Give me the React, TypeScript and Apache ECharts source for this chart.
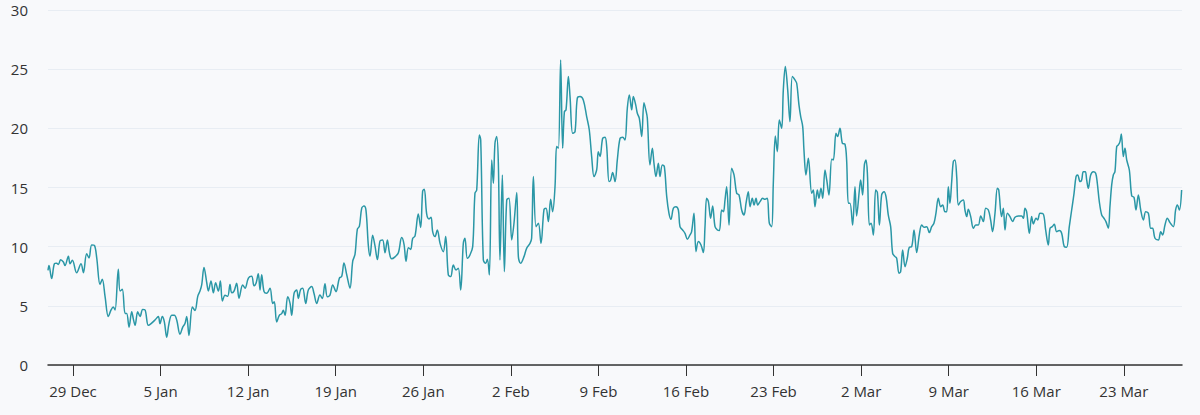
import React, { useEffect, useRef } from "react";
import * as echarts from "echarts";

// x = days after 29 Dec (midnight); y = value
const days = [
  -2.0, -1.92, -1.71, -1.49, -1.31, -1.17, -0.99, -0.77, -0.64, -0.37, -0.24, -0.05, 0.29, 0.64, 0.83, 1.09, 1.28, 1.49, 1.71, 1.89,
  2.16, 2.34, 2.56, 2.82, 3.04, 3.22, 3.36, 3.62, 3.76, 3.94, 4.16, 4.29, 4.48, 4.69, 4.82, 4.96, 5.17, 5.36, 5.57, 5.76,
  6.02, 6.24, 6.55, 6.82, 6.95, 7.14, 7.3, 7.49, 7.67, 7.89, 8.1, 8.29, 8.55, 8.77, 8.95, 9.09, 9.27, 9.54, 9.75, 9.97,
  10.15, 10.29, 10.47, 10.69, 10.82, 11.03, 11.22, 11.4, 11.62, 11.78, 11.94, 12.15, 12.36, 12.55, 12.68, 12.87, 13.08, 13.27,
  13.56, 13.75, 14.02, 14.28, 14.47, 14.63, 14.81, 14.95, 15.08, 15.27, 15.48, 15.75, 15.96, 16.09, 16.28, 16.49, 16.68, 16.81, 16.95,
  17.16, 17.35, 17.48, 17.67, 17.88, 18.01, 18.2, 18.36, 18.6, 18.81, 19.08, 19.26, 19.48, 19.74, 19.93, 20.14, 20.33, 20.54, 20.76,
  21.02, 21.29, 21.48, 21.66, 21.88, 22.14, 22.36, 22.54, 22.73, 22.89, 23.08, 23.26, 23.42, 23.61, 23.74, 23.95, 24.14, 24.33,
  24.54, 24.75, 24.94, 25.13, 25.29, 25.47, 25.74, 26.01, 26.27, 26.46, 26.62, 26.81, 26.99, 27.15, 27.34, 27.6, 27.79, 27.95,
  28.08, 28.27, 28.46, 28.62,
  28.75, 28.94, 29.12, 29.34, 29.6, 29.79, 30.0, 30.19, 30.4, 30.62, 30.8, 30.99, 31.2, 31.33, 31.52, 31.73, 31.95, 32.13, 32.27,
  32.48, 32.59, 32.8, 32.99, 33.12, 33.28, 33.47, 33.6, 33.73, 33.87, 34.0, 34.13, 34.32, 34.48, 34.67, 34.85, 35.07, 35.25, 35.47,
  35.6, 35.78, 36.05, 36.26, 36.53, 36.66, 36.8, 37.01, 37.2, 37.41, 37.65, 37.81, 38.0, 38.18, 38.34, 38.53, 38.66, 38.8, 38.98,
  39.14, 39.28, 39.41, 39.6, 39.73, 39.94, 40.13, 40.31, 40.53, 40.79, 41.06, 41.27, 41.46, 41.65, 41.86, 41.99, 42.13, 42.34,
  42.53, 42.66, 42.85, 42.98, 43.14, 43.33, 43.51, 43.73, 43.94, 44.12,
  44.31, 44.47, 44.66, 44.79, 44.98, 45.11, 45.27, 45.46, 45.64, 45.8, 45.91, 46.12, 46.31, 46.44, 46.6, 46.79, 46.92, 47.11,
  47.27, 47.46, 47.64, 47.8, 47.99, 48.2, 48.39, 48.52, 48.73, 48.92, 49.11, 49.32, 49.45, 49.64, 49.8, 49.99, 50.2, 50.39,
  50.52, 50.65, 50.79, 50.97, 51.13, 51.32, 51.51, 51.67, 51.85, 51.99, 52.12, 52.25, 52.44, 52.65, 52.84, 53.05, 53.24, 53.45,
  53.64, 53.8, 53.98, 54.12, 54.3, 54.44, 54.6, 54.73, 54.92, 55.13, 55.32, 55.5, 55.66, 55.85, 55.98, 56.14, 56.3, 56.46,
  56.65, 56.78, 56.94, 57.13, 57.31, 57.5, 57.71, 57.85, 58.03, 58.17, 58.33, 58.43, 58.59, 58.78,
  59.05, 59.18, 59.31, 59.5, 59.63, 59.79, 59.93, 60.11, 60.25, 60.43, 60.65, 60.78, 60.99, 61.12, 61.31, 61.5, 61.71, 61.84,
  61.98, 62.11, 62.32, 62.51, 62.64, 62.86, 62.96, 63.12, 63.26, 63.39, 63.5, 63.66, 63.79, 63.98, 64.16, 64.3, 64.46, 64.64,
  64.83, 64.99, 65.17, 65.36, 65.52, 65.71, 65.84, 66.03, 66.16, 66.32, 66.51, 66.69, 66.85, 67.04, 67.23, 67.44, 67.65, 67.84,
  68.03, 68.24, 68.45, 68.64, 68.82, 68.98, 69.17, 69.36, 69.52, 69.7, 69.84, 69.97, 70.1, 70.24, 70.37, 70.5, 70.64, 70.77,
  70.96, 71.17, 71.3, 71.44, 71.57, 71.76, 71.97, 72.16, 72.37, 72.56, 72.77, 72.96, 73.17, 73.35, 73.51, 73.7, 73.89, 74.0,
  74.23, 74.37, 74.5, 74.69, 74.9, 75.11, 75.3, 75.57, 75.83, 75.97, 76.1, 76.23, 76.45, 76.63, 76.77, 76.98, 77.11, 77.3,
  77.56, 77.75, 77.96, 78.1, 78.28, 78.44, 78.63, 78.84, 79.03, 79.24, 79.43, 79.64, 79.83, 80.02, 80.18, 80.31, 80.5, 80.63,
  80.76, 80.92, 81.03, 81.16, 81.35, 81.56, 81.75, 81.88, 82.04, 82.23, 82.41, 82.57, 82.76, 82.89, 83.03, 83.16, 83.29, 83.43,
  83.56, 83.69, 83.8, 83.96, 84.09, 84.23, 84.44, 84.63, 84.81, 84.97, 85.16, 85.35, 85.56, 85.75, 85.96, 86.15, 86.3, 86.49,
  86.76, 86.95, 87.1, 87.29, 87.48, 87.69, 87.96, 88.14, 88.28, 88.44, 88.62,
];

const values = [
  8.0, 8.4, 7.3, 8.55, 8.6, 8.5, 8.9, 8.7, 8.4, 9.2, 8.55, 8.85, 7.8, 8.55, 7.8, 9.4, 9.05, 10.15, 10.1, 9.1,
  6.8, 7.25, 5.8, 4.1, 4.65, 4.9, 4.65, 8.1, 6.25, 6.4, 4.35, 4.35, 3.2, 4.5, 3.9, 3.35, 4.5, 4.1, 4.7, 4.65,
  3.35, 3.5, 3.8, 4.1, 3.5, 4.1, 3.65, 2.35, 3.5, 4.2, 4.2, 3.8, 2.6, 3.2, 3.5, 4.1, 2.5, 4.9, 4.6, 5.8,
  6.25, 6.8, 8.25, 6.95, 6.25, 7.1, 6.1, 6.95, 6.25, 7.1, 5.4, 5.9, 5.8, 6.8, 6.1, 6.25, 6.9, 5.65,
  6.77, 6.49, 7.34, 7.49, 6.69, 6.91, 7.71, 6.34, 7.63, 6.2, 6.06, 6.49, 5.2, 5.34, 3.63, 4.2, 4.34, 4.63, 4.2,
  5.77, 5.2, 4.2, 6.06, 6.34, 5.63, 6.4, 6.49, 5.2, 6.34, 6.63, 6.06, 5.2, 5.91, 5.63, 6.86, 5.77, 5.91, 6.77,
  6.2, 7.34, 7.49, 8.63, 7.63, 6.49, 8.77, 9.34, 11.49, 11.71, 13.26, 13.43, 13.06, 10.06, 9.2, 10.97, 10.06, 8.91,
  10.49, 10.57, 9.49, 10.57, 9.49, 8.97, 9.14, 9.49, 10.77, 10.2, 8.77, 9.91, 9.77, 10.69, 10.91, 12.77, 11.63, 14.69,
  14.86, 12.77, 12.34, 12.49,
  11.27, 10.85, 11.41, 10.28, 9.58, 10.85, 7.61, 7.47, 8.45, 8.03, 8.17, 6.34, 10.28, 10.71, 9.02, 9.3, 10.0, 14.51, 14.79,
  19.44, 19.02, 8.88, 8.59, 8.93, 7.61, 17.33, 15.36, 18.74, 19.3, 17.05, 8.88, 16.06, 7.89, 13.95, 14.09, 10.57, 11.98, 14.57,
  9.16, 8.59, 9.16, 9.86, 10.28, 10.71, 15.92, 11.69, 11.98, 10.28, 13.16, 13.24, 12.12, 14.0, 12.96, 15.07, 18.46, 18.32, 25.78,
  18.32, 21.41, 21.56, 24.37, 22.68, 19.58, 19.72, 22.54, 22.68, 22.4, 20.99, 19.86, 17.61, 15.92, 16.48, 18.03, 17.61, 19.16,
  19.24, 18.46, 15.5, 15.64, 16.26, 15.5, 17.33, 19.16, 19.24, 19.02,
  21.7, 22.82, 21.56, 22.68, 21.98, 21.27, 20.85, 19.3, 22.17, 21.5, 20.85, 16.91, 18.32, 17.05, 15.92, 17.05, 15.92, 16.91,
  16.76, 14.23, 12.82, 12.31, 13.24, 13.38, 13.1, 11.69, 11.41, 11.13, 10.62, 10.99, 11.27, 12.82, 9.58, 10.43, 10.14, 9.5,
  11.69, 14.09, 13.81, 12.4, 13.44, 11.69, 11.41, 11.36, 13.1, 12.96, 13.95, 15.07, 11.83, 16.62, 16.06, 14.51, 14.37, 13.1,
  12.68, 13.67, 14.65, 13.38, 14.09, 13.52, 14.09, 13.52, 13.81, 14.09, 14.0, 14.09, 11.98, 11.69, 15.36, 19.36, 18.03, 20.71,
  20.01, 23.25, 25.22, 23.25, 20.57, 24.37, 24.09, 23.81, 21.98, 20.99, 20.15, 18.17, 16.06, 17.47,
  14.51, 14.79, 13.38, 14.79, 14.09, 14.93, 14.09, 16.48, 15.64, 14.37, 17.39, 17.33, 19.58, 19.3, 20.01, 18.74, 18.65, 17.33,
  13.67, 13.67, 11.83, 15.07, 12.6, 14.79, 15.64, 14.37, 16.91, 17.33, 16.2, 11.83, 11.98, 10.99, 14.79, 14.57, 11.83, 14.37,
  14.65, 14.23, 12.68, 11.69, 9.44, 9.16, 9.02, 7.75, 7.89, 9.72, 8.31, 9.02, 9.95, 10.0, 11.41, 9.5, 10.99, 11.83,
  11.64, 11.69, 11.19, 11.69, 11.98, 12.82, 14.09, 13.38, 13.52, 12.96, 12.96, 15.07, 13.67, 15.5, 17.19, 17.33, 15.92, 13.52,
  13.81, 13.95, 13.1, 12.54, 13.16, 12.54, 11.55, 11.83, 11.83, 12.6, 12.12, 13.24, 13.1, 12.26, 11.27, 12.82, 14.93, 14.79,
  12.54, 13.24, 11.41, 12.82, 12.54, 12.12, 12.48, 12.6, 12.6, 12.4, 13.24, 12.96, 11.13, 12.54, 11.92, 12.4, 12.26, 12.82,
  12.76, 11.41, 10.14, 11.55, 11.69, 11.89, 11.27, 11.36, 11.13, 10.0, 9.95, 11.69, 13.1, 14.51, 15.92, 16.06, 15.5, 15.64,
  16.34, 16.34, 15.64, 14.93, 16.06, 16.34, 16.2, 15.36, 13.81, 12.68, 12.4, 12.12, 11.55, 13.38, 15.22, 16.06, 16.34, 18.46,
  18.6, 18.88, 19.53, 17.61, 18.32, 17.33, 16.48, 14.29, 14.17, 13.1, 14.37, 13.1, 12.26, 12.96, 12.82, 11.55, 11.55, 10.71,
  10.57, 11.27, 10.99, 11.83, 12.4, 12.03, 11.69, 13.1, 13.52, 13.1, 14.79,
];

const xTickDays = [0, 7, 14, 21, 28, 35, 42, 49, 56, 63, 70, 77, 84];
const xTickLabels = ["29 Dec", "5 Jan", "12 Jan", "19 Jan", "26 Jan", "2 Feb", "9 Feb", "16 Feb", "23 Feb", "2 Mar", "9 Mar", "16 Mar", "23 Mar"];
const X_MIN = -2;
const X_MAX = 88.65;
const Y_MIN = 0;
const Y_MAX = 30;
const Y_STEP = 5;

export default function App() {
  const ref = useRef<HTMLDivElement>(null);
  useEffect(() => {
    document.body.style.margin = "0";
    const chart = echarts.init(ref.current!, null, { renderer: "svg" });
    const font = { color: "#333", fontSize: 15, fontFamily: "Open Sans" };
    chart.setOption({
      animation: false,
      backgroundColor: "#f8f9fb",
      grid: { left: 48, right: 18, top: 10, bottom: 50 },
      xAxis: {
        type: "value",
        min: X_MIN,
        max: X_MAX,
        axisLine: { lineStyle: { color: "#333", width: 1.5 } },
        axisTick: { show: true, customValues: xTickDays, length: 11, lineStyle: { color: "#333", width: 1 } },
        axisLabel: {
          ...font,
          customValues: xTickDays,
          margin: 18,
          formatter: (v: number) => {
            const i = xTickDays.indexOf(Math.round(v));
            return i >= 0 ? xTickLabels[i] : "";
          },
        },
        splitLine: { show: false },
      },
      yAxis: {
        type: "value",
        min: Y_MIN,
        max: Y_MAX,
        interval: Y_STEP,
        axisLine: { show: false },
        axisTick: { show: false },
        axisLabel: { ...font, margin: 20 },
        splitLine: { lineStyle: { color: "#e8edf3", width: 1 } },
      },
      series: [
        {
          type: "line",
          data: days.map((d, i) => [d, values[i]]),
          showSymbol: false,
          smooth: 0.35,
          lineStyle: { color: "#2a97a6", width: 1.5 },
        },
      ],
    });
    return () => chart.dispose();
  }, []);
  return <div ref={ref} style={{ width: 1200, height: 415 }} />;
}
